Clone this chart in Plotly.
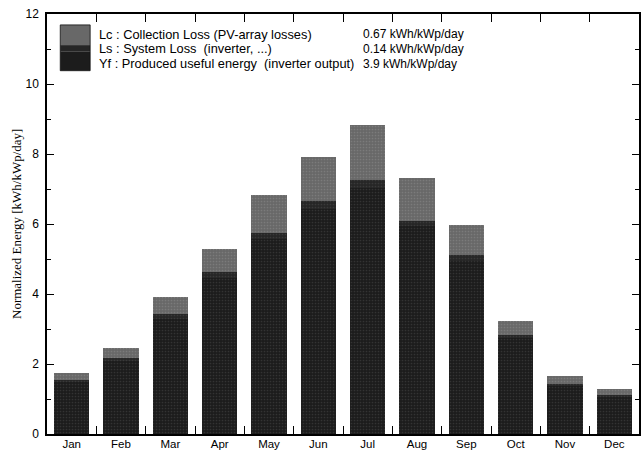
import plotly.graph_objects as go

months = ["Jan", "Feb", "Mar", "Apr", "May", "Jun", "Jul", "Aug", "Sep", "Oct", "Nov", "Dec"]
yf = [1.49, 2.09, 3.30, 4.47, 5.56, 6.44, 7.02, 5.93, 4.95, 2.73, 1.38, 1.08]
ls = [0.06, 0.08, 0.12, 0.16, 0.19, 0.22, 0.24, 0.16, 0.17, 0.10, 0.05, 0.04]
lc = [0.18, 0.29, 0.49, 0.67, 1.07, 1.25, 1.56, 1.23, 0.84, 0.41, 0.23, 0.18]

legend_labels = [
    "Lc : Collection Loss (PV-array losses)",
    "Ls : System Loss\u00a0\u00a0(inverter, ...)",
    "Yf : Produced useful energy\u00a0\u00a0(inverter output)",
]
legend_values = ["0.67 kWh/kWp/day", "0.14 kWh/kWp/day", "3.9 kWh/kWp/day"]

C_YF = "#1c1c1c"
C_LS = "#262626"
C_LC = "#686868"
P_YF = "#4a4a4a"
P_LS = "#4e4e4e"
P_LC = "#8e8e8e"

fig = go.Figure()
for name, vals, col, pcol in [("Yf", yf, C_YF, P_YF), ("Ls", ls, C_LS, P_LS), ("Lc", lc, C_LC, P_LC)]:
    fig.add_trace(go.Bar(
        x=months, y=vals, name=name, showlegend=False,
        marker=dict(color=col, line=dict(color=col, width=0),
                    pattern=dict(shape=".", fgcolor=pcol, bgcolor=col, size=3, solidity=0.25)),
    ))

FONT = "Liberation Sans, Arial, sans-serif"

fig.update_layout(
    width=644, height=453,
    barmode="stack", bargap=0.29,
    paper_bgcolor="white", plot_bgcolor="white",
    margin=dict(l=47, r=3, t=14, b=18),
    font=dict(family=FONT, size=11, color="black"),
    xaxis=dict(
        type="category", tickson="boundaries", ticks="inside", ticklen=8,
        tickwidth=1, tickcolor="black",
        showline=True, linecolor="black", linewidth=1.5, mirror="ticks",
        showgrid=False, tickfont=dict(size=11.5), ticklabelstandoff=-2,
    ),
    yaxis=dict(
        range=[0, 12], tickvals=[0, 2, 4, 6, 8, 10, 12], ticks="inside",
        ticklen=7, tickwidth=1, tickcolor="black",
        minor=dict(dtick=1, ticks="inside", ticklen=4, tickcolor="black", showgrid=False),
        showline=True, linecolor="black", linewidth=1.5, mirror="ticks",
        showgrid=False, zeroline=False, tickfont=dict(size=12), ticklabelstandoff=4,
    ),
)

fig.add_annotation(
    text="Normalized Energy [kWh/kWp/day]", textangle=-90,
    xref="paper", yref="paper", x=0, y=0.5, xanchor="center", yanchor="middle",
    xshift=-31, showarrow=False,
    font=dict(family="Liberation Serif, Times New Roman, serif", size=13),
)

# legend swatch (stacked)
for y0, y1, col in [(0.865, 0.910, C_YF), (0.910, 0.926, C_LS), (0.926, 0.974, C_LC)]:
    fig.add_shape(type="rect", xref="paper", yref="paper", x0=0.0224, x1=0.0729,
                  y0=y0, y1=y1, fillcolor=col, line=dict(width=0))
fig.add_shape(type="rect", xref="paper", yref="paper", x0=0.0224, x1=0.0729,
              y0=0.865, y1=0.974, line=dict(color="#111111", width=0.8))

ys = [0.952, 0.917, 0.881]
for lab, val, yy in zip(legend_labels, legend_values, ys):
    fig.add_annotation(text=lab, xref="paper", yref="paper", x=0.0846, y=yy,
                       xanchor="left", yanchor="middle", showarrow=False,
                       font=dict(size=12.8))
    fig.add_annotation(text=val, xref="paper", yref="paper", x=0.531, y=yy,
                       xanchor="left", yanchor="middle", showarrow=False,
                       font=dict(size=12))

fig.write_html("out.html", config={"displayModeBar": False},
               post_script="document.body.style.margin='0';document.body.style.overflow='hidden';")
